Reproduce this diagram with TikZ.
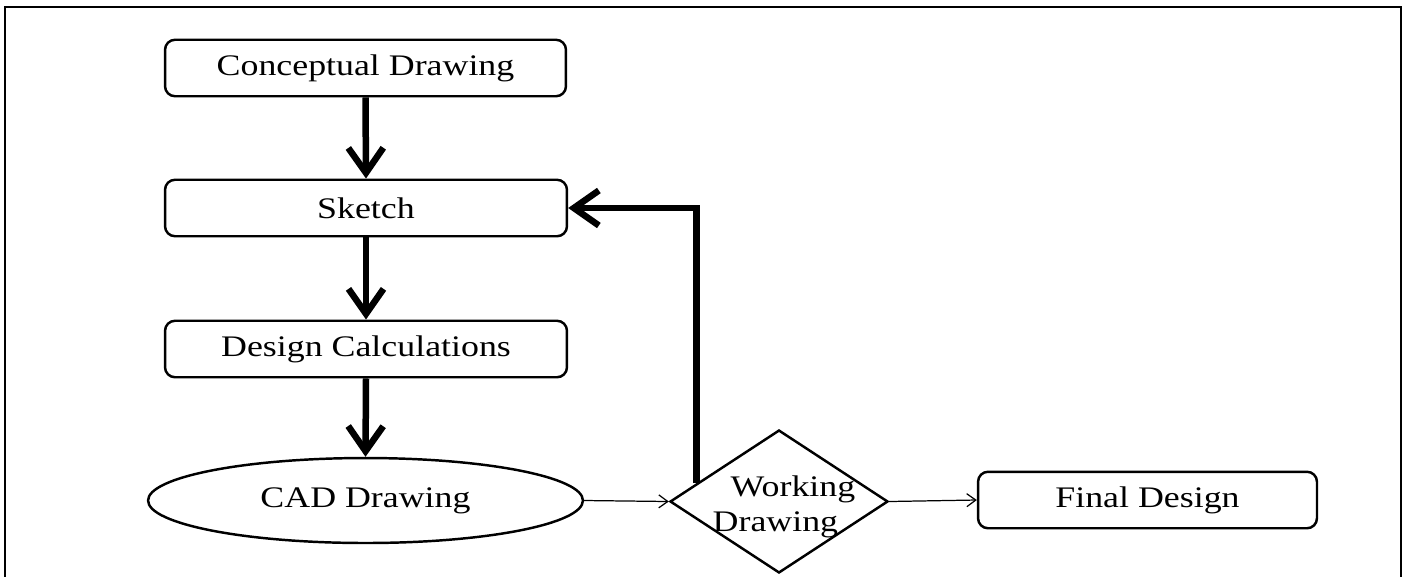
\documentclass[tikz,border=0pt]{standalone}
\usepackage{fontspec}
\setmainfont{Liberation Serif}[FakeStretch=1.2]
\usetikzlibrary{arrows.meta,shapes.geometric,calc}
\tikzset{
  txt/.style={font=\fontsize{17}{20}\selectfont},
  box/.style={draw, line width=1.4pt, rounded corners=0.2cm, minimum height=1.13cm, inner sep=0pt, txt},
  oval/.style={draw, ellipse, line width=1.4pt, minimum width=8.7cm, minimum height=1.7cm, inner sep=0pt, txt},
  decision/.style={draw, diamond, line width=1.4pt, minimum width=4.36cm, minimum height=2.86cm, inner sep=0pt},
  thickarrow/.style={line width=0.13cm, -{Straight Barb[length=0.5cm,width=0.7cm,line width=0.13cm]}},
  thinarrow/.style={line width=0.7pt, -{Straight Barb[length=0.18cm,width=0.26cm,line width=0.7pt]}},
  frame/.style={line width=1.4pt}
}
\begin{document}
\begin{tikzpicture}[x=0.02cm,y=-0.02cm]
\useasboundingbox (0,0) rectangle (1408,576);
\draw[frame] (5,590) -- (5,7) -- (1401,7) -- (1401,590);
\node[box, minimum width=8.02cm] (c1) at (365.5,68) {Conceptual Drawing};
\node[box, minimum width=8.04cm] (sk) at (366,208) {Sketch};
\node[box, minimum width=8.04cm] (dc) at (366,349) {Design Calculations};
\node[oval] (cad) at (365.5,500.5) {CAD Drawing};
\node[decision] (wd) at (779,501.5) {};
\node[align=left, inner sep=0pt, txt] (wdl) at (784,507) {\hspace*{0.36cm}Working\\Drawing};
\node[box, minimum width=6.78cm] (fd) at (1147.5,500) {Final Design};
\draw[thickarrow] (c1.south) -- (sk.north);
\draw[thickarrow] (sk.south) -- (dc.north);
\draw[thickarrow] (dc.south) -- (cad.north);
\draw[thinarrow] (cad.east) -- (wd.west);
\draw[thinarrow] (wd.east) -- (fd.west);
\coordinate (fb) at ($(wd.west)!0.25!(wd.north)$);
\draw[thickarrow] (fb) |- (sk.east);
\end{tikzpicture}
\end{document}
